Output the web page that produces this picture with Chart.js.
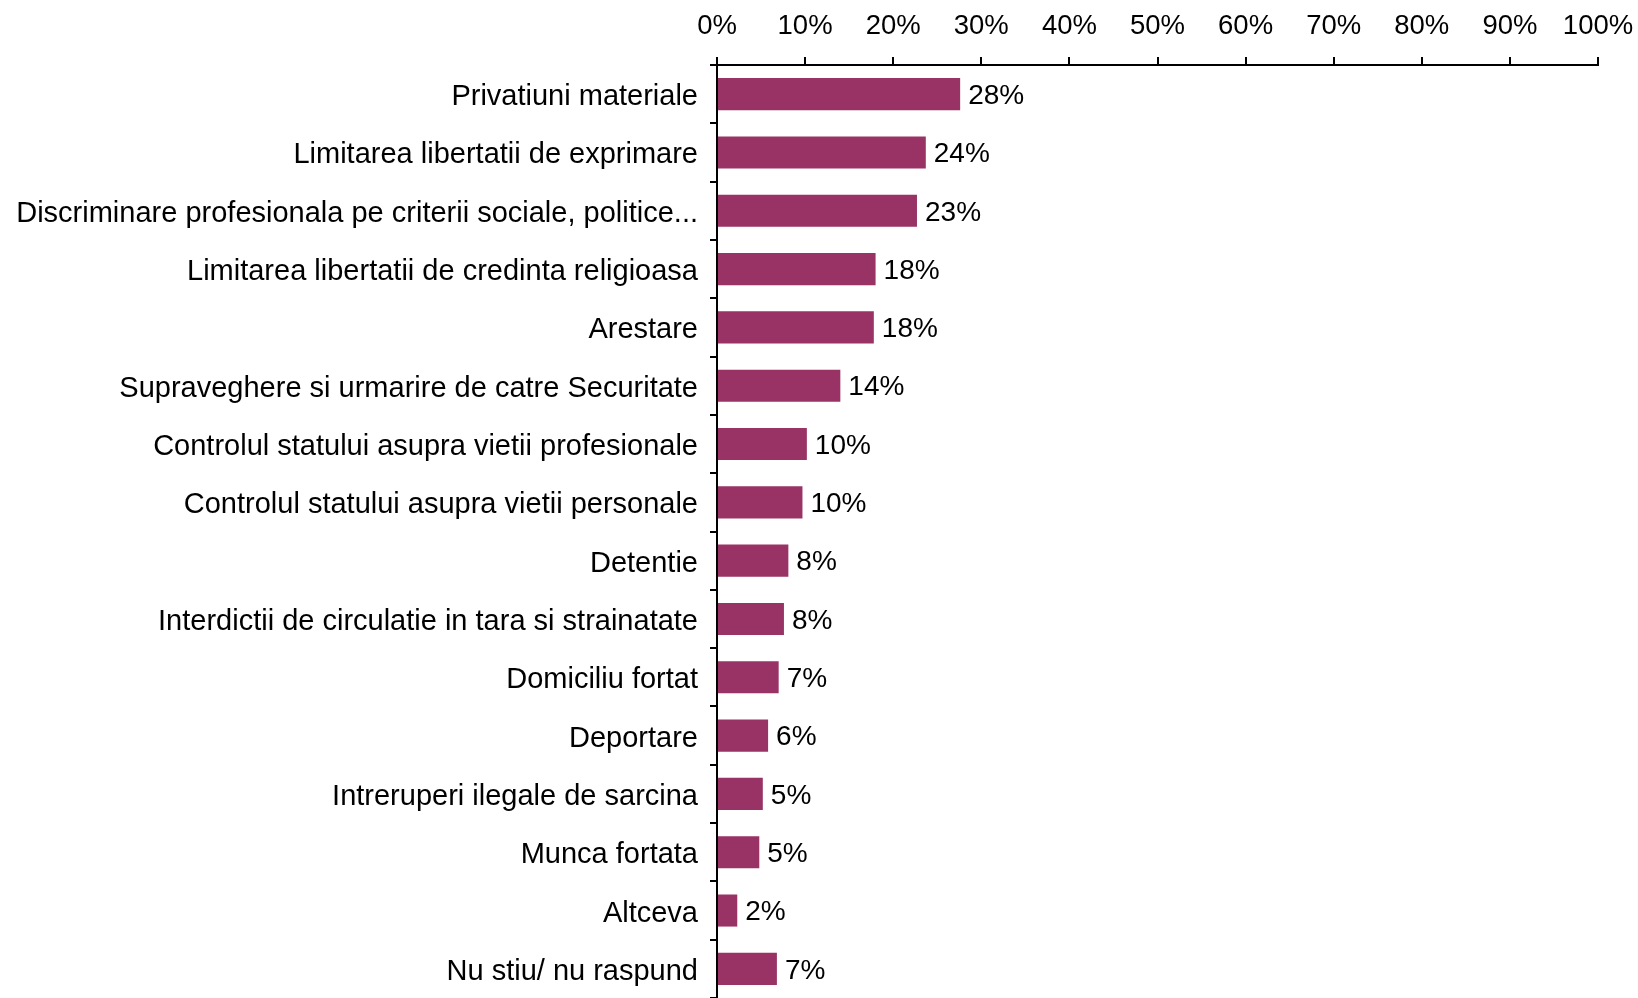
<!DOCTYPE html>
<html>
<head>
<meta charset="utf-8">
<script src="https://cdn.jsdelivr.net/npm/chart.js@4"></script>
<style>
  html, body { margin: 0; padding: 0; background: #fff; }
  #wrap { width: 1638px; height: 998px; }
</style>
</head>
<body>
<div id="wrap"><canvas id="grafic"></canvas></div>
<script>
const categorii = [
    'Privatiuni materiale',
    'Limitarea libertatii de exprimare',
    'Discriminare profesionala pe criterii sociale, politice...',
    'Limitarea libertatii de credinta religioasa',
    'Arestare',
    'Supraveghere si urmarire de catre Securitate',
    'Controlul statului asupra vietii profesionale',
    'Controlul statului asupra vietii personale',
    'Detentie',
    'Interdictii de circulatie in tara si strainatate',
    'Domiciliu fortat',
    'Deportare',
    'Intreruperi ilegale de sarcina',
    'Munca fortata',
    'Altceva',
    'Nu stiu/ nu raspund'
];
const procente = [27.6, 23.7, 22.7, 18.0, 17.8, 14.0, 10.2, 9.7, 8.1, 7.6, 7.0, 5.8, 5.2, 4.8, 2.3, 6.8];
const etichete = ['28%', '24%', '23%', '18%', '18%', '14%', '10%', '10%', '8%', '8%', '7%', '6%', '5%', '5%', '2%', '7%'];

const FONT = 'Liberation Sans, Arial, sans-serif';

// eticheta de valoare la capatul fiecarei bare
const eticheteBare = {
    id: 'eticheteBare',
    afterDatasetsDraw(chart) {
        const ctx = chart.ctx;
        const meta = chart.getDatasetMeta(0);
        ctx.save();
        ctx.font = '28px ' + FONT;
        ctx.fillStyle = '#000';
        ctx.textAlign = 'left';
        ctx.textBaseline = 'middle';
        meta.data.forEach((bar, i) => {
            ctx.fillText(etichete[i], bar.x + 8, bar.y + 2);
        });
        ctx.restore();
    }
};

new Chart(document.getElementById('grafic').getContext('2d'), {
    type: 'bar',
    data: {
        labels: categorii,
        datasets: [{
            data: procente,
            backgroundColor: '#993366',
            barPercentage: 0.55,
            categoryPercentage: 1
        }]
    },
    options: {
        indexAxis: 'y',
        responsive: true,
        maintainAspectRatio: false,
        animation: false,
        layout: { padding: { top: 0, right: 40, bottom: 0, left: 0 } },
        plugins: { legend: { display: false }, tooltip: { enabled: false } },
        scales: {
            x: {
                position: 'top',
                min: 0,
                max: 100,
                afterFit: (scale) => {
                    scale.height = 65;
                    scale.paddingLeft = 0;
                    scale.paddingRight = 0;
                },
                border: { display: true, color: '#000', width: 2 },
                grid: { drawOnChartArea: false, drawTicks: true, tickLength: 8, color: '#000', lineWidth: 2 },
                ticks: {
                    stepSize: 10,
                    color: '#000',
                    padding: 14,
                    maxRotation: 0,
                    font: { family: FONT, size: 27.5 },
                    callback: (v) => v + '%'
                }
            },
            y: {
                afterFit: (scale) => {
                    scale.width = 717;
                    scale.paddingTop = 0;
                    scale.paddingBottom = 0;
                },
                border: { display: true, color: '#000', width: 2 },
                grid: { offset: true, drawOnChartArea: false, drawTicks: true, tickLength: 7, color: '#000', lineWidth: 2 },
                ticks: {
                    color: '#000',
                    padding: 12,
                    labelOffset: 3,
                    autoSkip: false,
                    font: { family: FONT, size: 29 }
                }
            }
        }
    },
    plugins: [eticheteBare]
});
</script>
</body>
</html>
